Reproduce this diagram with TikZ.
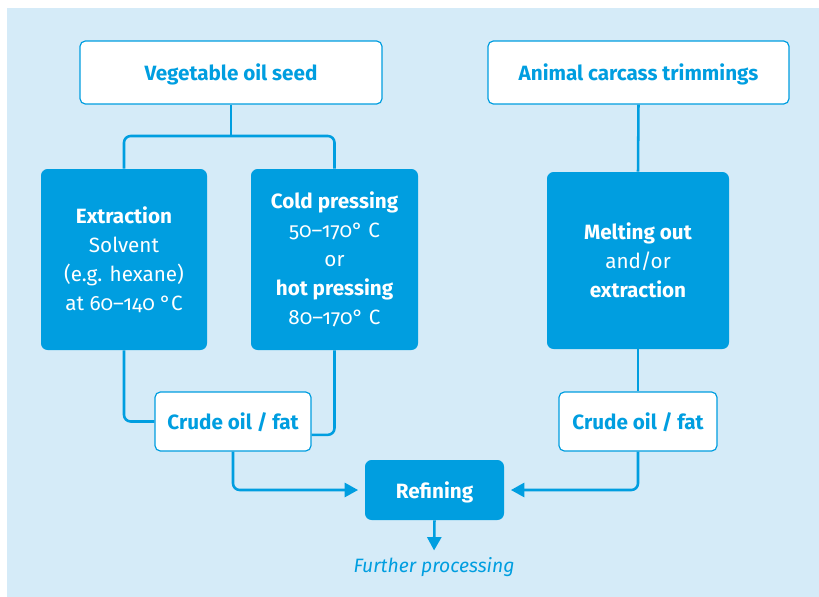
\documentclass[tikz,border=0pt]{standalone}
\usepackage{fontspec}
\setmainfont{Fira Sans}[Numbers=OldStyle]
\usetikzlibrary{arrows.meta}
\definecolor{oilblue}{RGB}{0,158,224}
\definecolor{oilback}{RGB}{213,235,248}

\begin{document}
\begin{tikzpicture}[x=0.75pt,y=0.75pt,yscale=-1,xscale=1,
  font=\fontsize{15.5}{21.8}\selectfont,
  whitebox/.style={draw=oilblue,line width=0.9pt,fill=white,rounded corners=4pt,
    text=oilblue,align=center,font=\fontsize{15.5}{21.8}\selectfont\bfseries,inner sep=0pt,
    text depth=0pt},
  bluebox/.style={fill=oilblue,rounded corners=5pt,text=white,align=center,inner sep=0pt},
  link/.style={draw=oilblue,line width=1.9pt,rounded corners=5pt},
  flow/.style={link,-{Triangle[length=10pt,width=10.5pt]},shorten >=5pt}]
\useasboundingbox (0,0) rectangle (819,597);

%Background
\fill [oilback] (7,8) rectangle (819,597);

%Starting materials
\node [whitebox,minimum width=226.5pt,minimum height=47.25pt] (veg) at (231,72.5) {Vegetable oil seed};
\node [whitebox,minimum width=225.75pt,minimum height=47.25pt] (animal) at (638.5,72.5) {Animal carcass trimmings};

%Processes
\node [bluebox,minimum width=124.5pt,minimum height=135.75pt] (extr) at (124,259.5)
  {\textbf{Extraction}\\Solvent\\(e.g. hexane)\\at 60–140 °C};
\node [bluebox,minimum width=125.25pt,minimum height=135.75pt] (press) at (334.5,259.5)
  {\textbf{Cold pressing}\\50–170° C\\or\\\textbf{hot pressing}\\80–170° C};
\node [bluebox,minimum width=136.5pt,minimum height=132.75pt] (melt) at (638,260.5)
  {\textbf{Melting out}\\and/or\\\textbf{extraction}};

%Crude oil
\node [whitebox,minimum width=117pt,minimum height=44.25pt] (crudeL) at (233,421.5) {Crude oil / fat};
\node [whitebox,minimum width=118.5pt,minimum height=44.25pt] (crudeR) at (638,421.5) {Crude oil / fat};

%Refining
\node [bluebox,minimum width=104.25pt,minimum height=45pt,font=\fontsize{15.5}{21.8}\selectfont\bfseries,
  text depth=0pt] (refin) at (434.5,490) {Refining};
\node [text=oilblue,font=\fontsize{14.5}{20}\selectfont\itshape,inner sep=2pt] (further) at (434,567) {Further processing};

% Connectors
\coordinate (fork) at (231,136);
\draw [link] (veg.south) -- (fork);
\draw [link] (extr.north) |- (fork) -| (press.north);
\draw [link] (animal.south) -- (melt.north);
\draw [link] (extr.south) |- (crudeL.west);
\draw [link] (press.south) |- ([yshift=10pt]crudeL.east);
\draw [link] (melt.south) -- (crudeR.north);
\draw [flow] (crudeL.south) |- (refin.west);
\draw [flow] (crudeR.south) |- (refin.east);
\draw [flow,shorten >=3pt] (refin.south) -- (further.north);

\end{tikzpicture}
\end{document}
